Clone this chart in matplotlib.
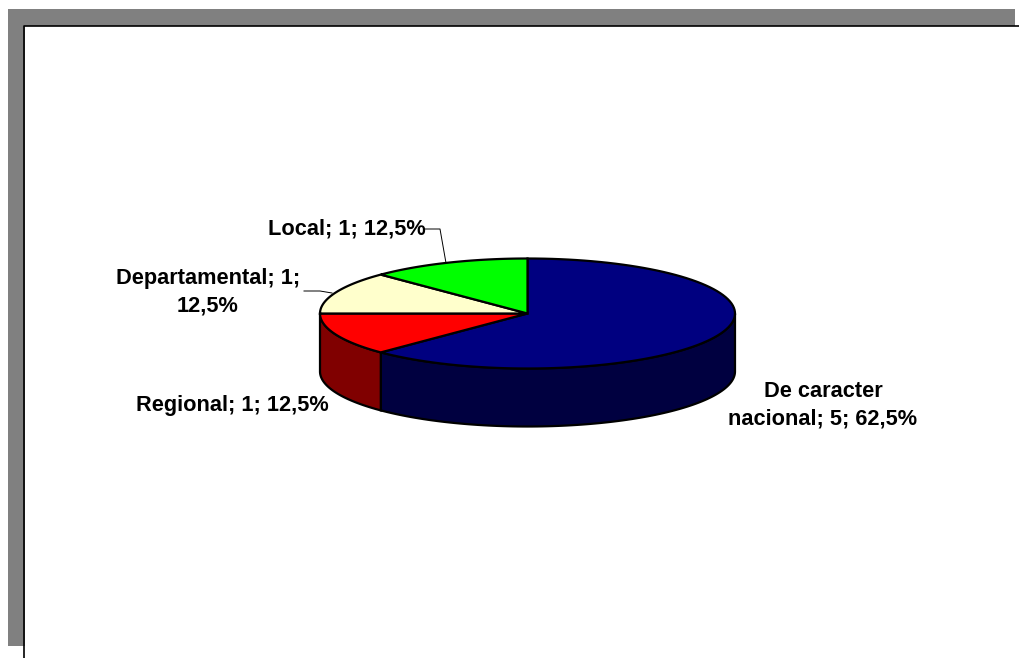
import numpy as np
import matplotlib
matplotlib.use("Agg")
import matplotlib.pyplot as plt
from matplotlib.patches import Rectangle

plt.rcParams["font.family"] = ["Liberation Sans", "DejaVu Sans"]

categories = ["De caracter nacional", "Regional", "Departamental", "Local"]
values = [5, 1, 1, 1]
labels = ["De caracter\nnacional; 5; 62,5%", "Regional; 1; 12,5%",
          "Departamental; 1;\n12,5%", "Local; 1; 12,5%"]
top_colors = ["#000080", "#ff0000", "#ffffcc", "#00ff00"]
side_colors = ["#000040", "#800000", "#808066", "#008000"]
label_xy = [(823, 405), (232, 405.5), (208, 292), (347, 229)]

# pie geometry, in pixels
cx, cy = 527.5, 313.5
rx, ry = 207.5, 55
depth = 58


def rim(a0, a1):
    # angles clockwise from 12 o'clock
    a = np.radians(np.linspace(a0, a1, 100))
    return cx + rx * np.sin(a), cy - ry * np.cos(a)


fig = plt.figure(figsize=(10.2, 6.58), dpi=100)
ax = fig.add_axes([0, 0, 1, 1])
ax.set_xlim(0, 1020)
ax.set_ylim(658, 0)
ax.axis("off")

# grey shadow and white sheet
ax.add_patch(Rectangle((8, 9), 1007, 637, fc="#808080", ec="none", zorder=1))
ax.add_patch(Rectangle((25, 26), 995, 632, fc="white", ec="none", zorder=2))
ax.plot([24.5, 24.5, 1020], [658, 25.5, 25.5], color="black", lw=1.2, zorder=3)

angles = np.cumsum([0] + values) / sum(values) * 360

# side wall, only the front half shows
for i in range(len(values)):
    a0, a1 = max(angles[i], 90), min(angles[i + 1], 270)
    if a1 <= a0:
        continue
    x, y = rim(a0, a1)
    ax.fill(np.r_[x, x[::-1]], np.r_[y, y[::-1] + depth],
            fc=side_colors[i], ec="black", lw=1.6, zorder=4)

# top face
for i in range(len(values)):
    x, y = rim(angles[i], angles[i + 1])
    ax.fill(np.r_[cx, x], np.r_[cy, y], fc=top_colors[i], ec="black", lw=1.6, zorder=5)

# leader lines
ax.plot([425, 440, 446], [229, 229, 263], color="black", lw=0.7, zorder=6)
ax.plot([304, 320, 332], [291, 291, 293], color="black", lw=0.7, zorder=6)

for txt, (tx, ty) in zip(labels, label_xy):
    ax.text(tx, ty, txt, ha="center", va="center", fontsize=15.7,
            fontweight="bold", linespacing=1.4, color="black", zorder=7)

fig.savefig("out.png", dpi=100)
